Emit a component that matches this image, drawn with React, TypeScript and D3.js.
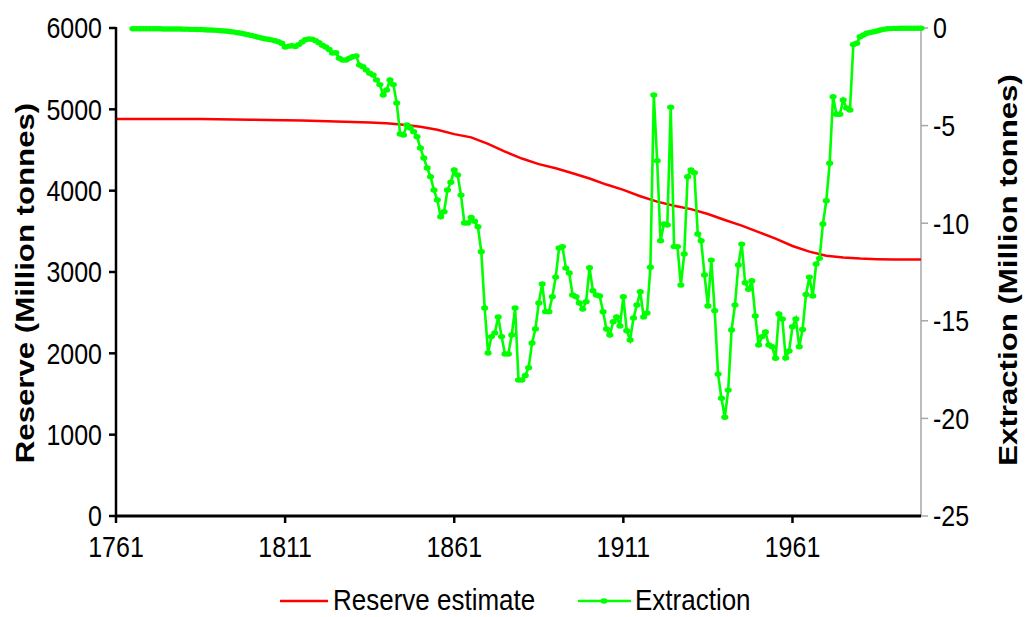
import * as d3 from 'd3'

// Extraction (million tonnes, plotted negative), one value per year from 1766
const extractionStart = 1766
const extraction = [
  -0.04, -0.04, -0.04, -0.04, -0.04, -0.04, -0.04, -0.04, -0.04, -0.05,
  -0.05, -0.05, -0.05, -0.05, -0.05, -0.06, -0.06, -0.07, -0.07, -0.08,
  -0.08, -0.09, -0.1, -0.1, -0.11, -0.12, -0.14, -0.15, -0.17, -0.19,
  -0.21, -0.24, -0.27, -0.31, -0.34, -0.38, -0.42, -0.47, -0.51, -0.55,
  -0.58, -0.61, -0.65, -0.7, -0.78, -0.97, -0.93, -0.91, -0.95, -0.85,
  -0.72, -0.6, -0.56, -0.58, -0.65, -0.75, -0.88, -0.97, -1.1, -1.28,
  -1.27, -1.55, -1.64, -1.64, -1.55, -1.47, -1.43, -1.9, -1.98, -2.15,
  -2.32, -2.41, -2.66, -2.9, -3.43, -3.18, -2.66, -2.9, -3.84, -5.43,
  -5.48, -4.97, -5.12, -5.31, -5.57, -6.15, -6.66, -7.17, -7.62, -8.3,
  -8.81, -9.67, -9.41, -8.3, -7.9, -7.27, -7.53, -8.56, -9.99, -9.99,
  -9.7, -9.9, -10.18, -11.46, -14.34, -16.65, -15.81, -15.62, -14.8, -15.81,
  -16.7, -16.7, -15.73, -14.34, -18.03, -18.03, -17.8, -17.4, -16.14, -15.42,
  -14.09, -13.11, -14.53, -14.53, -13.77, -12.76, -11.27, -11.2, -12.3, -12.55,
  -13.68, -13.77, -14.09, -14.4, -14.02, -12.28, -13.46, -13.68, -13.73, -14.53,
  -15.42, -15.73, -15.05, -14.8, -15.27, -13.77, -15.51, -15.98, -14.86, -14.19,
  -13.51, -14.8, -14.6, -12.26, -3.43, -6.8, -10.9, -10.04, -10.09, -4.06,
  -11.2, -11.2, -13.17, -11.58, -7.62, -7.27, -7.41, -10.55, -10.9, -12.65,
  -14.24, -11.89, -14.48, -17.73, -18.97, -19.94, -18.55, -15.47, -14.19, -12.14,
  -11.07, -13.05, -13.39, -12.95, -14.75, -16.24, -15.81, -15.57, -16.24, -16.33,
  -16.92, -14.65, -14.91, -16.9, -16.55, -15.3, -14.91, -16.33, -15.44, -13.65,
  -12.76, -13.73, -12.09, -11.8, -10.04, -8.85, -6.93, -3.52, -4.42, -4.42,
  -3.69, -4.1, -4.2, -0.84, -0.78, -0.45, -0.36, -0.27, -0.23, -0.19,
  -0.15, -0.1, -0.07, -0.04, -0.03, -0.02, -0.02, -0.01, -0.01, -0.01,
  -0.01, -0.01, -0.01, -0.01,
]

// Reserve estimate (million tonnes), read every 5 years
const reserveYears = [
  1761, 1766, 1771, 1776, 1781, 1786, 1791, 1796, 1801, 1806, 1811, 1816,
  1821, 1826, 1831, 1836, 1841, 1846, 1851, 1856, 1861, 1866, 1871, 1876,
  1881, 1886, 1891, 1896, 1901, 1906, 1911, 1916, 1921, 1926, 1931, 1936,
  1941, 1946, 1951, 1956, 1961, 1966, 1971, 1976, 1981, 1986, 1991, 1996, 1999,
]
const reserve = [
  4880, 4880, 4880, 4880, 4880, 4880, 4878, 4875, 4872, 4870, 4865, 4862,
  4858, 4850, 4845, 4838, 4828, 4810, 4785, 4750, 4695, 4655, 4575, 4480,
  4395, 4326, 4276, 4215, 4150, 4075, 4010, 3932, 3865, 3815, 3773, 3713,
  3640, 3570, 3490, 3410, 3320, 3250, 3200, 3178, 3165, 3158, 3155, 3155, 3155,
]

const xTicks = [1761, 1811, 1861, 1911, 1961]
const leftTicks = [0, 1000, 2000, 3000, 4000, 5000, 6000]
const rightTicks = [0, -5, -10, -15, -20, -25]

const W = 1026, H = 617
const L = 116, R = 921, T = 28, B = 516
const SY = 1.2 // the picture is stretched vertically
const FONT = "'Liberation Sans', Arial, sans-serif"

function Txt({ x, y, size, anchor = 'middle', bold = false, rotate = 0, sy = SY, children }: any) {
  return (
    <g transform={`translate(${x},${y}) scale(1,${sy}) rotate(${rotate})`}>
      <text textAnchor={anchor} dominantBaseline="central" fontFamily={FONT}
        fontSize={size} fontWeight={bold ? 'bold' : 'normal'} fill="#000">{children}</text>
    </g>
  )
}

export default function App() {
  const x = d3.scaleLinear().domain([1761, 1999]).range([L, R])
  const yL = d3.scaleLinear().domain([0, 6000]).range([B, T])
  const yR = d3.scaleLinear().domain([-25, 0]).range([B, T])

  const ext = extraction.map((v, i) => ({ year: extractionStart + i, v }))
  const res = reserve.map((v, i) => ({ year: reserveYears[i], v }))

  const extLine = d3.line<{ year: number; v: number }>().x(d => x(d.year)).y(d => yR(d.v))
  const resLine = d3.line<{ year: number; v: number }>().x(d => x(d.year)).y(d => yL(d.v))

  const green = '#00ff00', red = '#ff0000'

  return (
    <svg width={W} height={H} style={{ position: 'absolute', left: 0, top: 0, background: '#fff' }}>
      <rect width={W} height={H} fill="#fff" />

      {/* right axis */}
      <line x1={R} x2={R} y1={T} y2={B} stroke="#a6a6a6" strokeWidth={1.5} />
      {rightTicks.map(t => (
        <g key={t}>
          <line x1={R} x2={R + 7} y1={yR(t)} y2={yR(t)} stroke="#a6a6a6" strokeWidth={1.5} />
          <Txt x={R + 12} y={yR(t)} size={25} anchor="start">{t}</Txt>
        </g>
      ))}

      {/* series */}
      <path d={resLine(res) ?? ''} fill="none" stroke={red} strokeWidth={2.5} />
      <path d={extLine(ext) ?? ''} fill="none" stroke={green} strokeWidth={2.6} />
      {ext.map(d => (
        <ellipse key={d.year} cx={x(d.year)} cy={yR(d.v)} rx={3.6} ry={2.7} fill={green} />
      ))}

      {/* left axis */}
      <line x1={L} x2={L} y1={T - 1} y2={B} stroke="#000" strokeWidth={2.5} />
      {leftTicks.map(t => (
        <g key={t}>
          <line x1={L - 7} x2={L} y1={yL(t)} y2={yL(t)} stroke="#000" strokeWidth={2.5} />
          <Txt x={L - 14} y={yL(t)} size={25} anchor="end">{t}</Txt>
        </g>
      ))}

      {/* bottom axis */}
      <line x1={L - 1} x2={R} y1={B} y2={B} stroke="#000" strokeWidth={3} />
      {xTicks.map(t => (
        <g key={t}>
          <line x1={x(t)} x2={x(t)} y1={B} y2={B + 7} stroke="#000" strokeWidth={2.5} />
          <Txt x={x(t)} y={B + 31} size={25}>{t}</Txt>
        </g>
      ))}

      {/* axis titles */}
      <Txt x={25} y={283} size={26} bold rotate={-90}>Reserve (Million tonnes)</Txt>
      <Txt x={1008} y={270} size={26} bold rotate={-90}>Extraction (Million tonnes)</Txt>

      {/* legend */}
      <line x1={280} x2={328} y1={601} y2={601} stroke={red} strokeWidth={2.5} />
      <Txt x={333} y={600} size={26} sy={1.12} anchor="start">Reserve estimate</Txt>
      <line x1={578} x2={631} y1={601} y2={601} stroke={green} strokeWidth={2.6} />
      <ellipse cx={604} cy={601} rx={3.6} ry={2.7} fill={green} />
      <Txt x={635} y={600} size={26} sy={1.12} anchor="start">Extraction</Txt>
    </svg>
  )
}
